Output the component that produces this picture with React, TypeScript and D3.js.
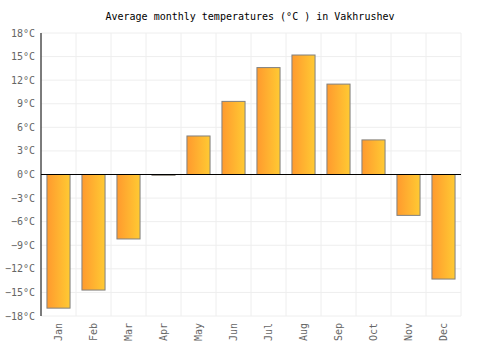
import React from "react";
import * as d3 from "d3";

const months = ["Jan", "Feb", "Mar", "Apr", "May", "Jun", "Jul", "Aug", "Sep", "Oct", "Nov", "Dec"];
const temps = [-17.0, -14.7, -8.2, -0.1, 4.9, 9.3, 13.6, 15.2, 11.5, 4.4, -5.2, -13.3];
const yTicks = [-18, -15, -12, -9, -6, -3, 0, 3, 6, 9, 12, 15, 18];

const width = 500;
const height = 350;
const margin = { top: 33, right: 39, bottom: 34, left: 41 };
const font = "'DejaVu Sans Mono', monospace";

export default function App() {
  const x = d3
    .scaleBand()
    .domain(months)
    .range([margin.left, width - margin.right])
    .paddingInner(0.34)
    .paddingOuter(0.17);
  const y = d3
    .scaleLinear()
    .domain([-18, 18])
    .range([height - margin.bottom, margin.top]);

  const step = x.step();
  const gridX = d3.range(months.length + 1).map(i => margin.left + i * step);

  return (
    <svg
      width={width}
      height={height}
      style={{ position: "absolute", left: 0, top: 0 }}
      fontFamily={font}
    >
      <defs>
        <linearGradient id="barGrad" x1="0" x2="1" y1="0" y2="0">
          <stop offset="0%" stopColor="#ff9a2e" />
          <stop offset="100%" stopColor="#ffca33" />
        </linearGradient>
      </defs>
      <text x={width / 2} y={20} textAnchor="middle" fontSize={10} fill="#000">
        Average monthly temperatures (°C ) in Vakhrushev
      </text>
      {yTicks.map(t => (
        <line
          key={"gy" + t}
          x1={margin.left}
          x2={width - margin.right}
          y1={y(t)}
          y2={y(t)}
          stroke="#eeeeee"
        />
      ))}
      {gridX.map((gx, i) => (
        <line key={"gx" + i} x1={gx} x2={gx} y1={margin.top} y2={height - margin.bottom} stroke="#eeeeee" />
      ))}
      {months.map((m, i) => {
        const v = temps[i];
        const y0 = y(Math.max(0, v));
        const y1 = y(Math.min(0, v));
        return (
          <rect
            key={m}
            x={x(m)}
            y={y0}
            width={x.bandwidth()}
            height={Math.max(0.5, y1 - y0)}
            fill="url(#barGrad)"
            stroke="#808080"
            strokeWidth={1}
          />
        );
      })}
      <line x1={margin.left} x2={width - margin.right} y1={y(0)} y2={y(0)} stroke="#000" />
      <line x1={margin.left} x2={margin.left} y1={margin.top} y2={height - margin.bottom} stroke="#000" />
      {yTicks.map(t => (
        <text
          key={"ty" + t}
          x={margin.left - 6}
          y={y(t)}
          dy="0.35em"
          textAnchor="end"
          fontSize={10}
          fill="#666"
        >
          {`${t < 0 ? "\u2212" : ""}${Math.abs(t)}°C`}
        </text>
      ))}
      {months.map(m => {
        const cx = (x(m) as number) + x.bandwidth() / 2;
        const ty = height - margin.bottom + 7;
        return (
          <text
            key={"tx" + m}
            transform={`translate(${cx},${ty}) rotate(-90)`}
            dy="0.35em"
            textAnchor="end"
            fontSize={10}
            fill="#666"
          >
            {m}
          </text>
        );
      })}
    </svg>
  );
}
